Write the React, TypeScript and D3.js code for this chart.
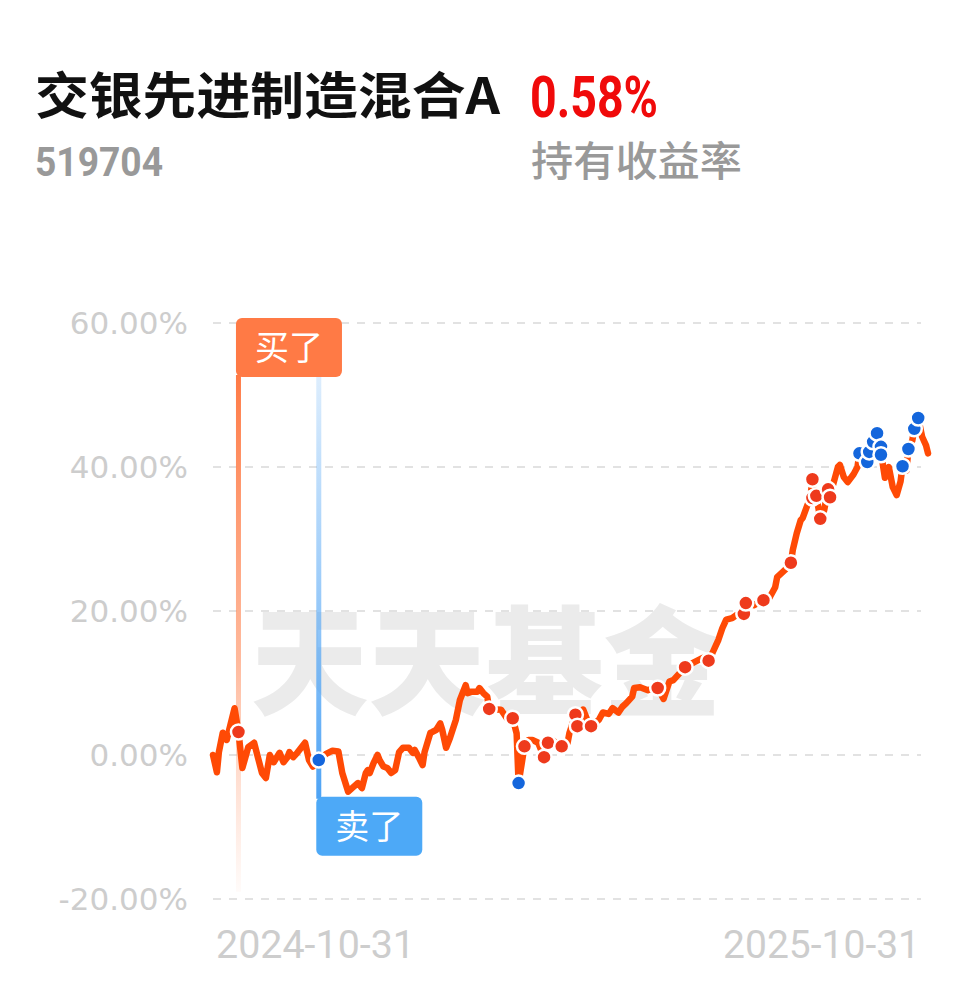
import React from 'react';
import * as d3 from 'd3';

// ---- data ----
const fundName = '交银先进制造混合A';
const fundCode = '519704';
const holdReturn = '0.58%';
const holdReturnLabel = '持有收益率';
const xTickLabels = ['2024-10-31', '2025-10-31'];
const yTicks = [60, 40, 20, 0, -20];

// calendar-day offsets from 2024-10-31
const days = [
  0, 2, 3, 5, 7, 11, 13, 15, 18, 21, 25, 27, 29, 31, 34, 36, 38, 39, 41, 43, 45, 47, 49, 51, 54,
  58, 61, 64, 66, 69, 71, 74, 76, 78, 79, 80, 82, 84, 85, 87, 89, 91, 93, 95, 97, 100, 102, 103,
  105, 107, 108, 111, 112, 114, 116, 117, 119, 121, 124, 126, 129, 130, 132, 135, 136, 138, 140,
  141, 147, 150, 153, 155, 156, 159, 161, 163, 166, 169, 171, 173, 178, 181, 182, 185, 186, 189,
  191, 193, 197, 199, 202, 204, 207, 209, 211, 214, 215, 218, 222, 225, 227, 230, 233, 235, 241,
  245, 250, 253, 255, 258, 260, 262, 265, 267, 271, 272, 276, 281, 284, 287, 288, 292, 295, 296,
  298, 300, 301, 303, 305, 306, 307, 308, 310, 312, 314, 315, 316, 319, 320, 322, 324, 327, 329,
  330, 334, 335, 337, 339, 341, 343, 345, 347, 349, 351, 352, 354, 355, 357, 358, 360, 362, 364, 365,
];
// cumulative return, %
const returns = [
  0.0, -2.4, 0.4, 3.1, 2.1, 6.5, 3.2, -1.8, 1.1, 1.7, -2.5, -3.2, 0.0, -1.0, 0.3, -1.0, -0.3, 0.4, -0.3, 0.3, 1.0, 1.7, -0.7, -1.6, -0.7,
  0.2, 0.6, 0.5, -2.5, -5.1, -4.6, -3.9, -4.6, -2.5, -2.1, -2.5, -1.1, 0.0, -0.7, -1.6, -1.8, -2.5, -2.1, 0.4, 1.0, 1.0, 0.3, 0.7,
  -0.3, -1.4, 0.4, 3.1, 3.2, 3.5, 4.4, 3.5, 1.0, 2.4, 4.9, 7.6, 9.7, 8.6, 8.8, 8.8, 9.3, 8.6, 8.1,
  6.4, 6.3, 5.1, 5.1, 3.0, -3.9, 1.2, 2.1, 2.1, 1.7, -0.3, 1.7, 2.1, 1.2, 1.7, 3.1, 5.6, 4.0, 6.3,
  4.9, 4.0, 4.9, 5.9, 5.7, 6.5, 5.9, 6.7, 7.2, 8.1, 9.3, 9.4, 9.0, 9.3, 9.3, 7.8, 10.2, 10.4, 12.2,
  12.8, 13.5, 13.1, 14.2, 16.0, 17.6, 18.8, 19.0, 19.4, 19.6, 21.1, 20.8, 21.5, 21.8, 23.3, 24.7, 25.7, 26.7, 28.5,
  30.8, 32.6, 32.9, 34.4, 35.8, 38.3, 35.7, 36.0, 32.8, 34.0, 36.9, 35.8, 37.0, 40.0, 40.3, 38.6, 37.9, 39.0, 40.0,
  41.9, 40.7, 42.1, 43.5, 44.7, 42.0, 38.5, 40.0, 37.2, 36.1, 38.0, 40.1, 39.5, 42.5, 43.7, 45.3, 46.8, 44.2, 43.0, 41.9,
];

// purchase points (red) and redemption points (blue)
const buyDays = [13, 141, 153, 159, 169, 171, 178, 185, 186, 193, 227, 241, 253, 271, 272, 281, 295, 306, 306, 308, 310, 314, 315];
const buyValues = [3.2, 6.4, 5.1, 1.2, -0.3, 1.7, 1.2, 5.6, 4.0, 4.0, 9.3, 12.2, 13.1, 19.6, 21.1, 21.5, 26.7, 38.3, 35.7, 36.0, 32.8, 36.9, 35.8];
const sellDays = [54, 156, 330, 334, 335, 337, 339, 341, 341, 352, 355, 358, 360];
const sellValues = [-0.7, -3.9, 41.9, 40.7, 42.1, 43.5, 44.7, 42.8, 41.7, 40.1, 42.5, 45.3, 46.8];

const firstBuyDay = 13;
const firstSellDay = 54;

const W = 978;
const H = 986;

export default function App() {
  const x = d3.scaleLinear().domain([0, 365]).range([213, 928]);
  const y = d3.scaleLinear().domain([-20, 60]).range([899, 323]);
  const pts: [number, number][] = days.map((d, i) => [d, returns[i]]);
  const line = d3
    .line<[number, number]>()
    .x((d) => x(d[0]))
    .y((d) => y(d[1]));

  const buyX = x(firstBuyDay);
  const sellX = x(firstSellDay);
  const buyBoxTop = y(60) - 5;
  const sellBoxTop = y(-5.8);
  const boxW = 106;
  const boxH = 59;
  const cjk = '"Noto Sans CJK SC", "Noto Sans", sans-serif';

  return (
    <svg
      width={W}
      height={H}
      viewBox={`0 0 ${W} ${H}`}
      style={{ position: 'absolute', left: 0, top: 0, background: '#fff' }}
    >
      <defs>
        <linearGradient id="buyGrad" x1="0" y1="0" x2="0" y2="1">
          <stop offset="0%" stopColor="#FF7A45" stopOpacity={1} />
          <stop offset="55%" stopColor="#FF9A70" stopOpacity={0.7} />
          <stop offset="100%" stopColor="#FFB090" stopOpacity={0.05} />
        </linearGradient>
        <linearGradient id="sellGrad" x1="0" y1="0" x2="0" y2="1">
          <stop offset="0%" stopColor="#4DA3F5" stopOpacity={0.12} />
          <stop offset="60%" stopColor="#4DA3F5" stopOpacity={0.6} />
          <stop offset="100%" stopColor="#4DA3F5" stopOpacity={1} />
        </linearGradient>
      </defs>
      <rect width={W} height={H} fill="#fff" />

      {/* header */}
      <text x={35} y={114} fontFamily={cjk} fontWeight={700} fontSize={50} fill="#111" textLength={465} lengthAdjust="spacingAndGlyphs">
        {fundName}
      </text>
      <text x={530} y={117} fontFamily="Roboto, sans-serif" fontWeight={700} fontSize={58} fill="#F00A0A" textLength={128} lengthAdjust="spacingAndGlyphs">
        {holdReturn}
      </text>
      <text x={35} y={176} fontFamily="Roboto, sans-serif" fontWeight={700} fontSize={41} fill="#999" textLength={128} lengthAdjust="spacingAndGlyphs">
        {fundCode}
      </text>
      <text x={531} y={176} fontFamily={cjk} fontWeight={500} fontSize={41} fill="#999" textLength={211} lengthAdjust="spacingAndGlyphs">
        {holdReturnLabel}
      </text>

      {/* grid + y labels */}
      {yTicks.map((t) => (
        <g key={t}>
          <line x1={213} x2={921} y1={y(t)} y2={y(t)} stroke="#e2e2e2" strokeWidth={2} strokeDasharray="8 8" />
          <text x={188} y={y(t) + 11} textAnchor="end" fontFamily='"DejaVu Sans", sans-serif' fontSize={31} fill="#cdcdcd">
            {`${t.toFixed(2)}%`}
          </text>
        </g>
      ))}

      {/* x labels */}
      <text x={216} y={958} fontFamily="Roboto, sans-serif" fontSize={39} fill="#cdcdcd" textLength={199} lengthAdjust="spacingAndGlyphs">
        {xTickLabels[0]}
      </text>
      <text x={920} y={958} textAnchor="end" fontFamily="Roboto, sans-serif" fontSize={39} fill="#cdcdcd">
        {xTickLabels[1]}
      </text>

      {/* watermark */}
      <text x={486} y={706} textAnchor="middle" fontFamily={cjk} fontWeight={900} fontSize={118} fill="#ebebeb" textLength={470} lengthAdjust="spacingAndGlyphs">
        天天基金
      </text>

      {/* buy / sell guide lines */}
      <rect x={buyX - 2.5} y={buyBoxTop + boxH - 2} width={5} height={y(-19) - (buyBoxTop + boxH - 2)} fill="url(#buyGrad)" />
      <rect x={sellX - 2.5} y={y(58.3)} width={5} height={sellBoxTop - y(58.3) + 2} fill="url(#sellGrad)" />

      {/* series */}
      <path d={line(pts) || ''} fill="none" stroke="#FF4A05" strokeWidth={6.5} strokeLinejoin="round" strokeLinecap="round" />

      {buyDays.map((d, i) => (
        <circle key={`b${i}`} cx={x(d)} cy={y(buyValues[i])} r={7.5} fill="#EE3A1C" stroke="#fff" strokeWidth={2.5} />
      ))}
      {sellDays.map((d, i) => (
        <circle key={`s${i}`} cx={x(d)} cy={y(sellValues[i])} r={7.5} fill="#1466DC" stroke="#fff" strokeWidth={2.5} />
      ))}

      {/* labels */}
      <rect x={buyX - 2.5} y={buyBoxTop} width={boxW} height={boxH} rx={6} fill="#FF7A45" />
      <text x={buyX - 2.5 + boxW / 2} y={buyBoxTop + 42} textAnchor="middle" fontFamily={cjk} fontSize={34} fill="#fff">
        买了
      </text>
      <rect x={sellX - 2.5} y={sellBoxTop} width={boxW} height={boxH} rx={6} fill="#4DA9F7" />
      <text x={sellX - 2.5 + boxW / 2} y={sellBoxTop + 42} textAnchor="middle" fontFamily={cjk} fontSize={34} fill="#fff">
        卖了
      </text>
    </svg>
  );
}
